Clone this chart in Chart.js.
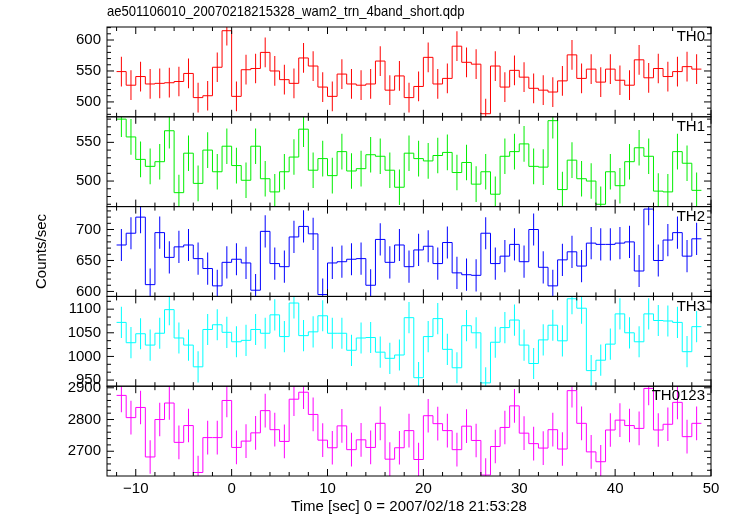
<!DOCTYPE html>
<html>
<head>
<meta charset="utf-8">
<script src="https://cdn.jsdelivr.net/npm/chart.js@4/dist/chart.umd.min.js"></script>
<style>
  html, body { margin: 0; padding: 0; background: #ffffff; }
  #wrap { width: 733px; height: 516px; }
</style>
</head>
<body>
<div id="wrap"><canvas id="c" width="733" height="516"></canvas></div>
<script>
const plotTitle = 'ae501106010_20070218215328_wam2_trn_4band_short.qdp';
const xTitle = 'Time [sec] 0 = 2007/02/18 21:53:28';
const yTitle = 'Counts/sec';
const panelNames = ['TH0', 'TH1', 'TH2', 'TH3', 'TH0123'];
const panelColors = ['#ff0000', '#00ee00', '#0000ff', '#00ffff', '#ff00ff'];

// bin centres (s), 1 s bins
const binCenters = [-11.5,-10.5,-9.5,-8.5,-7.5,-6.5,-5.5,-4.5,-3.5,-2.5,-1.5,-0.5,0.5,1.5,2.5,3.5,4.5,5.5,6.5,7.5,
  8.5,9.5,10.5,11.5,12.5,13.5,14.5,15.5,16.5,17.5,18.5,19.5,20.5,21.5,22.5,23.5,24.5,25.5,26.5,27.5,
  28.5,29.5,30.5,31.5,32.5,33.5,34.5,35.5,36.5,37.5,38.5,39.5,40.5,41.5,42.5,43.5,44.5,45.5,46.5,47.5,48.5];
const binHalfWidth = 0.5;

const th0 = [549,527,541,529,530,531,533,546,507,510,556,615,509,552,554,580,550,536,530,571,
  558,524,509,545,529,527,529,566,519,542,507,525,572,529,538,590,564,561,481,558,
  524,551,540,522,519,516,534,576,538,553,532,553,535,527,568,539,554,541,549,557,553];
const th1 = [580,557,528,519,525,565,485,536,497,540,512,545,520,501,545,503,486,512,531,567,
  514,529,507,538,513,516,534,532,514,492,536,529,526,533,537,511,524,496,512,483,
  532,538,548,519,518,578,489,527,503,500,470,512,494,525,543,532,487,486,538,523,488];
const th2 = [675,694,720,611,695,655,672,675,653,637,609,647,652,646,602,697,645,640,688,705,
  693,595,646,648,652,653,610,684,647,675,640,667,673,645,679,630,627,626,694,645,
  657,676,648,700,639,609,651,664,641,678,676,676,678,680,633,733,650,683,695,657,685];
const th3 = [1072,1029,1048,1024,1049,1099,1039,1024,978,1057,1067,1051,1031,1034,1057,1049,1088,1042,1113,1044,
  1052,1086,1049,1049,1013,1039,1040,1009,996,1003,1082,955,1042,1080,1015,976,1065,1050,944,1030,
  1061,1077,1024,985,1035,1066,1033,1122,1102,970,992,1026,1090,1050,1031,1090,1076,1075,1072,1010,1063];
const th0123 = [2876,2806,2838,2682,2800,2852,2728,2781,2633,2743,2743,2860,2712,2732,2758,2828,2768,2731,2864,2886,
  2816,2735,2711,2780,2705,2736,2712,2788,2675,2711,2765,2674,2812,2787,2765,2705,2779,2734,2625,2715,
  2775,2843,2757,2724,2710,2768,2707,2891,2788,2698,2667,2767,2798,2781,2772,2898,2767,2785,2854,2746,2788];
const seriesValues = [th0, th1, th2, th3, th0123];
// typical 1-sigma error per panel
const errors = [24, 23, 26, 33, 53];

// axis settings
const xMin = -13, xMax = 50, xMinorStep = 2, xMajorStep = 10;
const yMin = [476, 467, 592, 937, 2622];
const yMax = [621, 583, 737, 1127, 2905];
const yMinorStep = [10, 10, 10, 50/3, 20];
const yMajorStep = [50, 50, 50, 50, 100];

function isMultiple(v, step) {
  const r = v / step;
  return Math.abs(r - Math.round(r)) < 1e-6;
}

Chart.defaults.font.family = "'Liberation Sans', Arial, sans-serif";
Chart.defaults.font.size = 15;
Chart.defaults.color = '#000000';

const datasets = [];
seriesValues.forEach((vals, p) => {
  const stepPts = vals.map((v, i) => ({x: binCenters[i] - binHalfWidth, y: v}));
  stepPts.push({x: binCenters[vals.length - 1] + binHalfWidth, y: vals[vals.length - 1]});
  datasets.push({
    type: 'line',
    data: stepPts,
    yAxisID: 'y' + p,
    xAxisID: 'x',
    stepped: true,
    borderColor: panelColors[p],
    borderWidth: 1,
    pointRadius: 0,
    fill: false
  });
  datasets.push({
    type: 'bar',
    data: vals.map((v, i) => ({x: binCenters[i], y: [v - errors[p], v + errors[p]]})),
    yAxisID: 'y' + p,
    xAxisID: 'x',
    grouped: false,
    barThickness: 1,
    inflateAmount: 0,
    backgroundColor: panelColors[p],
    borderWidth: 0
  });
});

const scales = {
  x: {
    type: 'linear',
    position: 'bottom',
    min: xMin, max: xMax,
    offset: false,
    bounds: 'ticks',
    grid: {display: false, drawTicks: false},
    border: {display: false},
    ticks: {
      stepSize: xMinorStep,
      includeBounds: false,
      autoSkip: false,
      maxRotation: 0,
      padding: 4,
      callback: (v) => isMultiple(v, xMajorStep) ? (v < 0 ? '\u2212' + Math.abs(v) : String(v)) : ''
    },
    title: {display: true, text: xTitle, padding: {top: 0, bottom: 0}},
    afterFit: (s) => { s.height = 40; }
  }
};
panelNames.forEach((name, p) => {
  scales['y' + p] = {
    type: 'linear',
    position: 'left',
    stack: 'panels',
    stackWeight: 1,
    weight: panelNames.length - p,
    min: yMin[p], max: yMax[p],
    bounds: 'ticks',
    offset: false,
    grid: {display: false, drawTicks: false},
    border: {display: false},
    ticks: {
      stepSize: yMinorStep[p],
      includeBounds: false,
      autoSkip: false,
      padding: 6,
      callback: (v) => isMultiple(v, yMajorStep[p]) ? String(Math.round(v)) : ''
    },
    title: {display: p === 2, text: yTitle, padding: {top: 33, bottom: 0}},
    afterFit: (s) => { s.width = 107; }
  };
});

const decor = {
  id: 'decor',
  beforeDatasetDraw(chart, args) {
    const ys = args.meta.yScale, ca = chart.chartArea, ctx = chart.ctx;
    ctx.save();
    ctx.beginPath();
    ctx.rect(ca.left, ys.top, ca.right - ca.left, ys.bottom - ys.top);
    ctx.clip();
  },
  afterDatasetDraw(chart) {
    chart.ctx.restore();
  },
  afterDraw(chart) {
    const ctx = chart.ctx, ca = chart.chartArea, xs = chart.scales.x;
    ctx.save();
    ctx.strokeStyle = '#000000';
    ctx.lineWidth = 1;
    const seg = (x1, y1, x2, y2) => { ctx.beginPath(); ctx.moveTo(x1, y1); ctx.lineTo(x2, y2); ctx.stroke(); };
    panelNames.forEach((name, p) => {
      const s = chart.scales['y' + p];
      ctx.strokeRect(ca.left, s.top, ca.right - ca.left, s.bottom - s.top);
      s.ticks.forEach(t => {
        const y = s.getPixelForValue(t.value);
        if (y < s.top - 0.5 || y > s.bottom + 0.5) return;
        const len = isMultiple(t.value, yMajorStep[p]) ? 7 : 4;
        seg(ca.left, y, ca.left + len, y);
        seg(ca.right, y, ca.right - len, y);
      });
      xs.ticks.forEach(t => {
        const x = xs.getPixelForValue(t.value);
        const len = isMultiple(t.value, xMajorStep) ? 7 : 4;
        seg(x, s.top, x, s.top + len);
        seg(x, s.bottom, x, s.bottom - len);
      });
      ctx.fillStyle = '#000000';
      ctx.font = "15px 'Liberation Sans', Arial, sans-serif";
      ctx.textAlign = 'right';
      ctx.textBaseline = 'middle';
      ctx.fillText(name, ca.right - 6, s.top + 10);
    });
    // plot title: same face, slightly condensed like the original
    ctx.font = "15px 'Liberation Sans', Arial, sans-serif";
    ctx.textAlign = 'left';
    ctx.textBaseline = 'middle';
    ctx.translate(ca.left, 12);
    ctx.scale(0.87, 1);
    ctx.fillText(plotTitle, 0, 0);
    ctx.restore();
  }
};

new Chart(document.getElementById('c'), {
  type: 'line',
  data: {datasets},
  options: {
    responsive: false,
    devicePixelRatio: 1,
    animation: false,
    events: [],
    layout: {padding: {left: 0, right: 22, top: 27, bottom: 0}},
    plugins: {legend: {display: false}, tooltip: {enabled: false}, title: {display: false}},
    scales
  },
  plugins: [decor]
});
</script>
</body>
</html>
